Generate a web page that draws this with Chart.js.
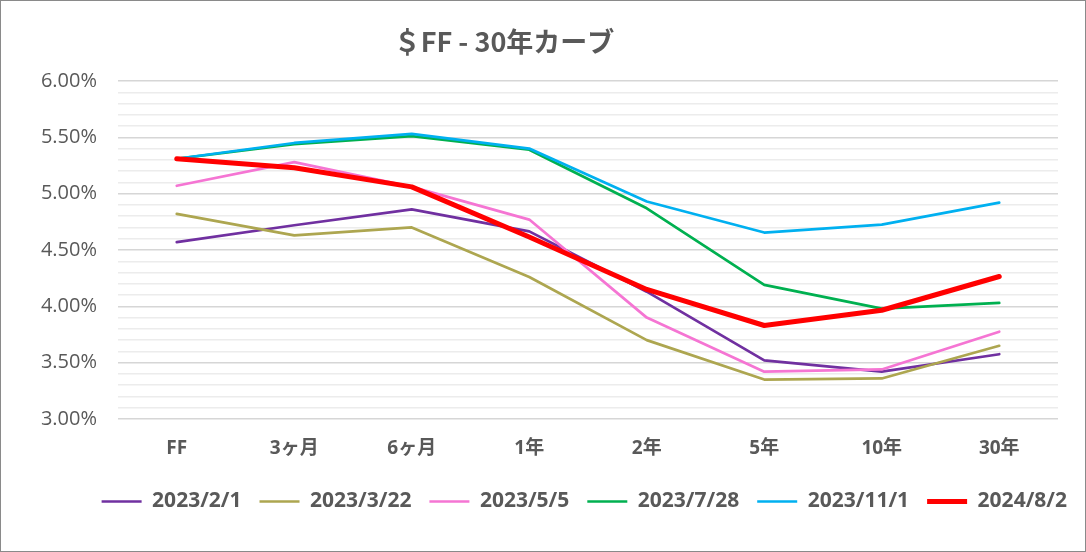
<!DOCTYPE html>
<html>
<head>
<meta charset="utf-8">
<script src="https://cdn.jsdelivr.net/npm/chart.js@4"></script>
<style>
html,body{margin:0;padding:0;background:#fff;}
#wrap{position:relative;width:1086px;height:552px;box-sizing:border-box;border:1px solid #8a8a8a;background:#fff;}
canvas{display:block;}
</style>
</head>
<body>
<div id="wrap"><canvas id="c" width="1084" height="550"></canvas></div>
<script>
const TITLE = '＄FF - 30年カーブ';
const categories = ['FF', '3ヶ月', '6ヶ月', '1年', '2年', '5年', '10年', '30年'];
const seriesNames = ['2023/2/1', '2023/3/22', '2023/5/5', '2023/7/28', '2023/11/1', '2024/8/2'];
const s20230201 = [4.57, 4.72, 4.86, 4.665, 4.13, 3.52, 3.42, 3.575];
const s20230322 = [4.82, 4.63, 4.70, 4.26, 3.70, 3.35, 3.36, 3.65];
const s20230505 = [5.07, 5.28, 5.06, 4.77, 3.90, 3.42, 3.44, 3.775];
const s20230728 = [5.31, 5.44, 5.51, 5.39, 4.87, 4.19, 3.98, 4.03];
const s20231101 = [5.31, 5.45, 5.53, 5.40, 4.93, 4.655, 4.725, 4.92];
const s20240802 = [5.31, 5.23, 5.06, 4.615, 4.15, 3.83, 3.965, 4.265];
const yMin = 3.0, yMax = 6.0, yMinorStep = 0.1, yMajorStep = 0.5;

const seriesValues = [s20230201, s20230322, s20230505, s20230728, s20231101, s20240802];
const colors = ['#7030A0', '#ADA650', '#F575D3', '#00B050', '#00B0F0', '#FF0000'];
const widths = [2.7, 2.7, 2.7, 2.7, 2.7, 5];
const orders = [6, 5, 4, 3, 2, 1];

const isMajor = v => Math.abs(v / yMajorStep - Math.round(v / yMajorStep)) < 1e-6;
const FONT = "'Open Sans', 'Noto Sans CJK JP', sans-serif";

const titlePlugin = {
  id: 'customTitle',
  afterDraw(chart) {
    const ctx = chart.ctx;
    ctx.save();
    ctx.font = "bold 27px 'Noto Sans CJK JP', sans-serif";
    ctx.fillStyle = '#595959';
    ctx.textAlign = 'center';
    ctx.textBaseline = 'middle';
    ctx.fillText(TITLE, 503, 41);
    ctx.restore();
  }
};

new Chart(document.getElementById('c'), {
  type: 'line',
  data: {
    labels: categories,
    datasets: seriesNames.map((n, i) => ({
      label: n,
      data: seriesValues[i],
      borderColor: colors[i],
      backgroundColor: colors[i],
      borderWidth: widths[i],
      pointRadius: 0,
      pointHoverRadius: 0,
      tension: 0,
      fill: false,
      order: orders[i],
      borderCapStyle: 'round',
      borderJoinStyle: 'round'
    }))
  },
  options: {
    responsive: false,
    animation: false,
    layout: { padding: { top: 80, right: 0, left: 0, bottom: 29 } },
    plugins: {
      title: { display: false },
      tooltip: { enabled: false },
      legend: {
        position: 'bottom',
        align: 'end',
        labels: {
          usePointStyle: true,
          pointStyle: 'line',
          pointStyleWidth: 40,
          boxHeight: 20,
          padding: 18,
          color: '#595959',
          font: { family: FONT, size: 21, weight: 'bold' },
          sort: (a, b) => a.datasetIndex - b.datasetIndex
        }
      }
    },
    scales: {
      x: {
        offset: true,
        grid: { display: false },
        border: { display: false },
        ticks: {
          color: '#595959',
          padding: 10,
          maxRotation: 0,
          font: { family: FONT, size: 19, weight: 'bold' }
        },
        afterFit(s) { s.height = 54; }
      },
      y: {
        min: yMin,
        max: yMax,
        border: { display: false },
        grid: {
          drawTicks: false,
          lineWidth: 1.5,
          color: c => isMajor(c.tick.value) ? '#d6d6d6' : '#ececec'
        },
        ticks: {
          stepSize: yMinorStep,
          autoSkip: false,
          padding: 21,
          color: '#595959',
          font: { family: FONT, size: 20 },
          callback: v => isMajor(v) ? v.toFixed(2) + '%' : ''
        },
        afterFit(s) { s.width = 117; }
      },
      yr: {
        position: 'right',
        display: true,
        grid: { display: false },
        border: { display: false },
        ticks: { display: false },
        afterFit(s) { s.width = 27; }
      }
    }
  },
  plugins: [titlePlugin]
});
</script>
</body>
</html>
